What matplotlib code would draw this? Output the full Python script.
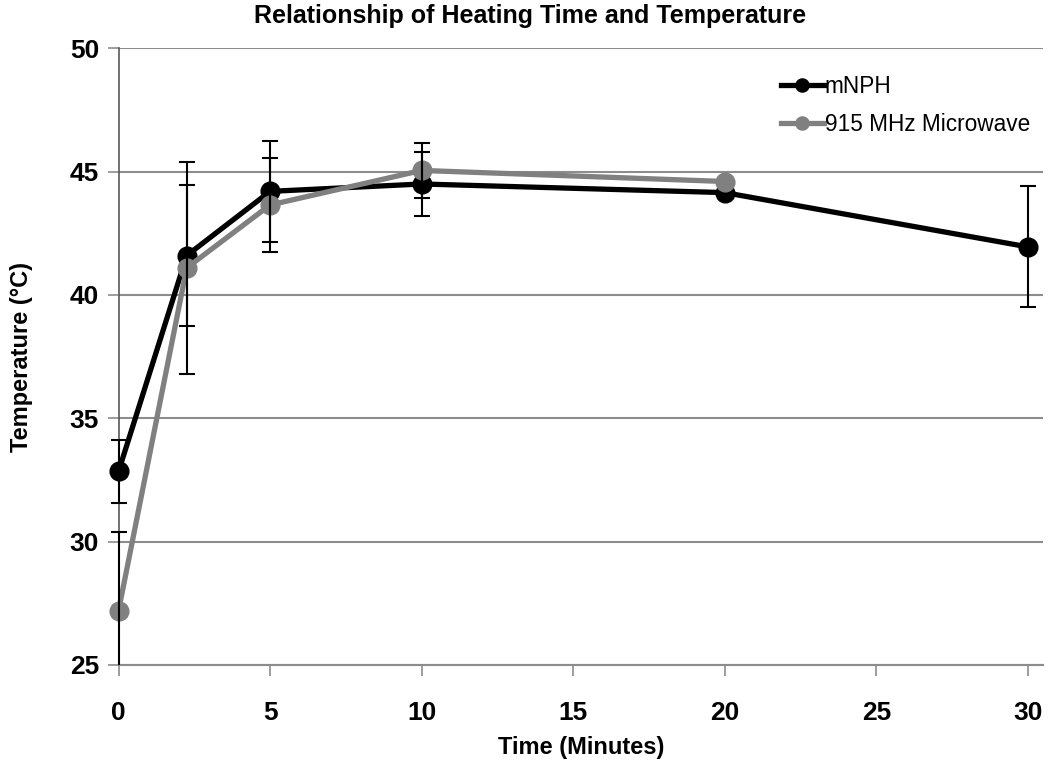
import matplotlib
matplotlib.use('Agg')
import matplotlib.pyplot as plt
from matplotlib.patches import Rectangle
import numpy as np

# 数据
time_mnph = [0, 2.25, 5, 10, 20, 30]
temp_mnph = [32.85, 41.6, 44.2, 44.5, 44.15, 41.95]
err_mnph = [1.27, 2.85, 2.05, 1.28, np.nan, 2.45]

time_mw = [0, 2.25, 5, 10, 20]
temp_mw = [27.2, 41.1, 43.65, 45.05, 44.6]
err_mw = [3.2, 4.3, 1.9, 1.12, np.nan]

x_ticks = [0, 5, 10, 15, 20, 25, 30]
y_ticks = [25, 30, 35, 40, 45, 50]

plt.rcParams['font.family'] = ['Liberation Sans', 'DejaVu Sans']

fig = plt.figure(figsize=(10.5, 7.62), dpi=100)
ax = fig.add_axes([0.1129, 0.1273, 0.8804, 0.8093])

grid_c = '#8c8c8c'
ax.set_xlim(0, 30.5)
ax.set_ylim(25, 50)
ax.set_xticks(x_ticks)
ax.set_yticks(y_ticks)
ax.yaxis.grid(True, color=grid_c, linewidth=1.5, zorder=0)
ax.set_axisbelow(True)
for s in ['top', 'right']:
    ax.spines[s].set_visible(False)
ax.spines['bottom'].set_color(grid_c)
ax.spines['bottom'].set_linewidth(1.5)
ax.spines['left'].set_color('#595959')
ax.spines['left'].set_linewidth(1.2)
ax.tick_params(axis='x', length=8, width=1.2, color=grid_c, pad=18, labelsize=19)
ax.tick_params(axis='y', length=8, width=1.2, color=grid_c, pad=6, labelsize=19)
for lab in ax.get_xticklabels() + ax.get_yticklabels():
    lab.set_fontweight('bold')

ax.plot(time_mnph, temp_mnph, color='black', lw=3.8, marker='o', ms=13.5,
        label='mNPH', zorder=3, clip_on=False)
ax.plot(time_mw, temp_mw, color='#808080', lw=3.8, marker='o', ms=13.5,
        label='915 MHz Microwave', zorder=4, clip_on=False)

# 误差线，只在y方向裁剪
clip_rect = Rectangle((-0.05, 0), 1.1, 1, transform=ax.transAxes, visible=False)
ax.add_patch(clip_rect)
for xs, ys, es in [(time_mnph, temp_mnph, err_mnph), (time_mw, temp_mw, err_mw)]:
    eb = ax.errorbar(xs, ys, yerr=es, fmt='none', ecolor='black', elinewidth=1.5,
                     capsize=6, capthick=1.5, zorder=5)
    for art in list(eb.lines[1]) + list(eb.lines[2]):
        art.set_clip_path(clip_rect)

fig.text(0.505, 0.979, 'Relationship of Heating Time and Temperature', fontsize=18,
         fontweight='bold', ha='center', va='center')
ax.set_xlabel('Time (Minutes)', fontsize=17, fontweight='bold', labelpad=8)
ax.set_ylabel('Temperature (°C)', fontsize=17, fontweight='bold', labelpad=10)
ax.yaxis.set_label_coords(-0.093, 0.5)

ax.legend(loc='upper right', bbox_to_anchor=(1.008, 0.99), frameon=False, fontsize=16.3,
          handlelength=1.9, handletextpad=0.05, labelspacing=0.65,
          markerscale=0.7)

fig.savefig('out.png', dpi=100)
